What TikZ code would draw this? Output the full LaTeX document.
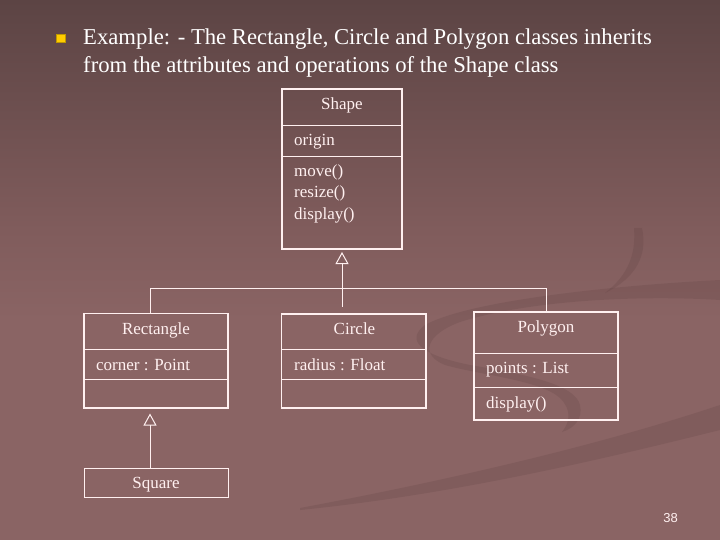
\documentclass[tikz,border=0pt]{standalone}
\usepackage{fontspec}
\setmainfont{Liberation Serif}
\newfontfamily\numfont{Liberation Sans}
\usetikzlibrary{arrows.meta}
\definecolor{bgtop}{RGB}{92,68,68}
\definecolor{bgmid}{RGB}{128,92,92}
\definecolor{bgbot}{RGB}{138,100,100}
\definecolor{ink}{RGB}{255,240,240}
\definecolor{bul}{RGB}{255,204,0}
\definecolor{swoosh}{RGB}{80,52,52}
\begin{document}
\begin{tikzpicture}[x=1pt,y=-1pt,
  cls/.style={draw=ink, line width=1.8pt, inner sep=0pt, outer sep=0pt, anchor=north west},
  thinbox/.style={draw=ink, line width=1pt, inner sep=0pt, outer sep=0pt, anchor=north west},
  div/.style={draw=ink, line width=0.8pt},
  lbl/.style={text=ink, font=\fontsize{17}{20}\selectfont, inner sep=0pt, anchor=base west},
  clsname/.style={lbl, anchor=base},
  ttl/.style={text=white, font=\fontsize{22.7}{27}\selectfont, inner sep=0pt, anchor=base west},
  conn/.style={draw=ink, line width=1pt},
  inh/.style={conn, -{Triangle[open, length=12pt, width=13pt, line width=1pt]}},
  band/.style={fill=swoosh, opacity=0.16},
]
% background
\useasboundingbox (0,0) rectangle (720,540);
\shade[top color=bgtop, bottom color=bgmid] (0,0) rectangle (720,230);
\shade[top color=bgmid, bottom color=bgbot] (0,229.5) rectangle (720,320);
\fill[bgbot] (0,319.5) rectangle (720,540);
% decorative swooshes
\fill[band] (720,280) .. controls (620,285) and (470,300) .. (425,325)
  .. controls (405,340) and (420,355) .. (470,365)
  .. controls (530,375) and (575,385) .. (580,405)
  .. controls (583,418) and (575,428) .. (562,432)
  .. controls (570,422) and (572,410) .. (560,398)
  .. controls (540,380) and (480,375) .. (445,365)
  .. controls (420,355) and (425,335) .. (460,322)
  .. controls (530,300) and (640,295) .. (720,300) -- cycle;
\fill[band] (300,508) .. controls (450,480) and (600,445) .. (720,405)
  -- (720,430) .. controls (600,460) and (450,495) .. (300,510) -- cycle;
\fill[band] (642,228) .. controls (648,255) and (636,278) .. (605,293)
  .. controls (628,275) and (636,255) .. (634,228) -- cycle;

% title
\node[fill=bul, draw=bul!75!black, line width=0.4pt, minimum size=8.5pt, inner sep=0pt] (bullet) at (60.5,38) {};
\node[ttl] (t1) at (83,45) {Example: - The Rectangle, Circle and Polygon classes inherits};
\node[ttl] (t2) at (83,72.5) {from the attributes and operations of the Shape class};

% Shape class
\node[cls, minimum width=120pt, minimum height=160pt] (shape) at (282,89) {};
\draw[div] ([yshift=-36pt]shape.north west) -- ([yshift=-36pt]shape.north east);
\draw[div] ([yshift=-67pt]shape.north west) -- ([yshift=-67pt]shape.north east);
\node[clsname] (shapen) at (342,110) {Shape};
\node[lbl] (origin) at (294,145.5) {origin};
\node[lbl] (move) at (294,177) {move()};
\node[lbl] (resize) at (294,198) {resize()};
\node[lbl] (disp) at (294,219) {display()};

% Rectangle class
\node[cls, minimum width=144pt, minimum height=94.5pt] (rect) at (84,313.5) {};
\draw[div] ([yshift=-35.8pt]rect.north west) -- ([yshift=-35.8pt]rect.north east);
\draw[div] ([yshift=-66pt]rect.north west) -- ([yshift=-66pt]rect.north east);
\node[clsname] (rectn) at (156,334) {Rectangle};
\node[lbl] (corner) at (96,370) {corner : Point};

% Circle class
\node[cls, minimum width=144.5pt, minimum height=94pt] (circ) at (281.5,314) {};
\draw[div] ([yshift=-35.3pt]circ.north west) -- ([yshift=-35.3pt]circ.north east);
\draw[div] ([yshift=-65.5pt]circ.north west) -- ([yshift=-65.5pt]circ.north east);
\node[clsname] (circn) at (354.5,334) {Circle};
\node[lbl] (radius) at (294,370) {radius : Float};

% Polygon class
\node[cls, minimum width=144pt, minimum height=108pt] (poly) at (474,312) {};
\draw[div] ([yshift=-41.3pt]poly.north west) -- ([yshift=-41.3pt]poly.north east);
\draw[div] ([yshift=-75.3pt]poly.north west) -- ([yshift=-75.3pt]poly.north east);
\node[clsname] (polyn) at (546,332) {Polygon};
\node[lbl] (points) at (486,373) {points : List};
\node[lbl] (pdisp) at (486,408) {display()};

% Square class
\node[thinbox, minimum width=144.5pt, minimum height=29.4pt] (sq) at (84,468.3) {};
\node[clsname] (sqn) at (156,488) {Square};

% connectors
\coordinate (j1) at (342,306.5);
\coordinate (hl) at (150,288.3);
\coordinate (hr) at (546,288.3);
\coordinate (ra) at (150,413.5);
\draw[inh] (j1) -- ([yshift=-3pt]shape.south);
\draw[conn] (rect.north -| hl) -- (hl) -- (hr) -- (poly.north -| hr);
\draw[inh] (sq.north -| ra) -- (ra);

% page number
\node[text=ink, font=\numfont\fontsize{13}{15}\selectfont, inner sep=0pt, anchor=base] (pg) at (670.5,522.5) {38};
\end{tikzpicture}
\end{document}
